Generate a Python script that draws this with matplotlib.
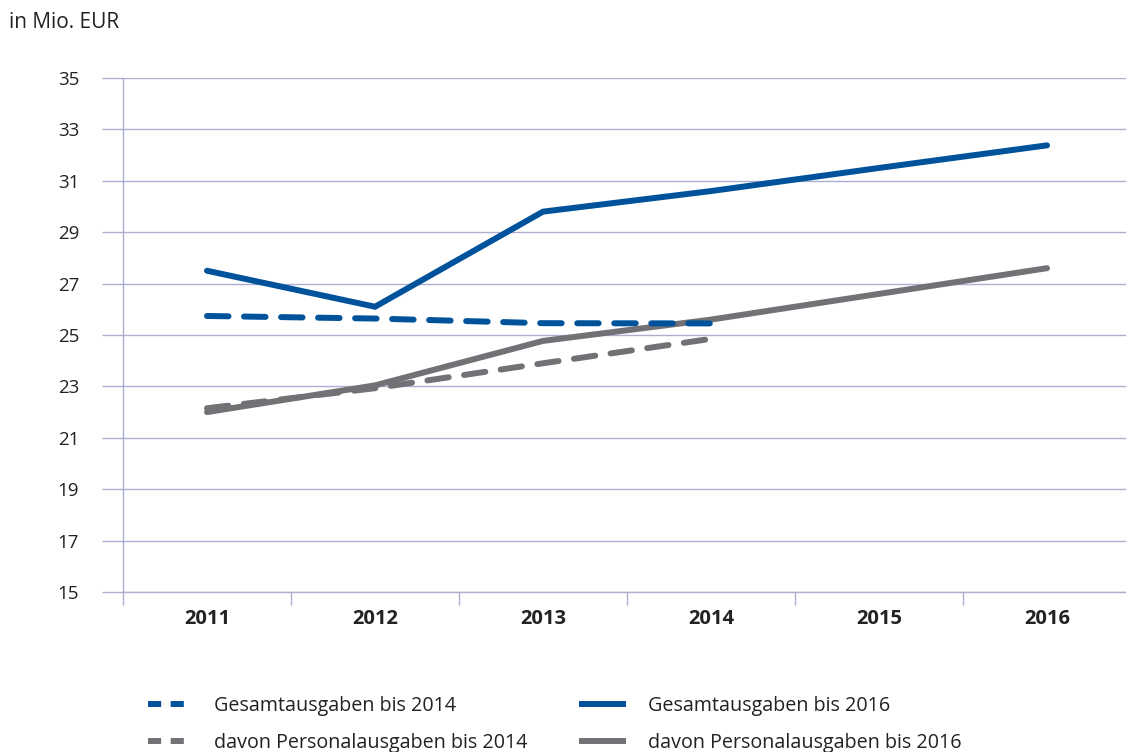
import matplotlib
matplotlib.use("Agg")
import matplotlib.pyplot as plt
from matplotlib.lines import Line2D

plt.rcParams['font.family'] = ['Open Sans', 'DejaVu Sans']

years = ["2011", "2012", "2013", "2014", "2015", "2016"]
gesamt_2014 = [25.74, 25.64, 25.46, 25.45]
personal_2014 = [22.15, 22.93, 23.9, 24.85]
gesamt_2016 = [27.5, 26.1, 29.8, 30.6, 31.5, 32.38]
personal_2016 = [22.0, 23.04, 24.77, 25.6, 26.6, 27.6]
y_ticks = [15, 17, 19, 21, 23, 25, 27, 29, 31, 33, 35]

blue = "#00529b"
gray = "#727276"
grid_c = "#aeaed2"
txt = "#222222"

fig = plt.figure(figsize=(11.26, 7.52), dpi=100)
ax = fig.add_axes([123/1126, 1-592/752, 1-123/1126, (592-78)/752])

x14 = list(range(len(gesamt_2014)))
x16 = list(range(len(gesamt_2016)))
lw = 4.3
ax.plot(x16, personal_2016, color=gray, lw=lw, solid_capstyle='round', solid_joinstyle='miter', zorder=3)
ax.plot(x14, personal_2014, color=gray, lw=lw, dashes=(3.6, 2.6), dash_capstyle='round', zorder=4)
ax.plot(x16, gesamt_2016, color=blue, lw=lw, solid_capstyle='round', solid_joinstyle='miter', zorder=3)
ax.plot(x14, gesamt_2014, color=blue, lw=lw, dashes=(3.6, 2.6), dash_capstyle='round', zorder=4)

ax.set_ylim(15, 35)
ax.set_xlim(-0.5, 5.47)
ax.set_yticks(y_ticks)
ax.set_yticklabels([str(t) for t in y_ticks], fontsize=13.5, color=txt)
ax.tick_params(axis='y', length=15, width=1, color=grid_c, pad=16.5)
ax.yaxis.grid(True, color=grid_c, lw=1)
ax.set_axisbelow(True)

ax.set_xticks(x16)
ax.set_xticklabels(years, fontsize=14.5, fontweight='bold', color=txt)
ax.set_xticks([i - 0.5 for i in range(len(years))], minor=True)
ax.tick_params(axis='x', which='major', length=0, pad=12)
ax.tick_params(axis='x', which='minor', length=9, width=1, color=grid_c)

for s in ['top', 'right']:
    ax.spines[s].set_visible(False)
for s in ['left', 'bottom']:
    ax.spines[s].set_color(grid_c)
    ax.spines[s].set_linewidth(1)

fig.text(9/1126, 1-22/752, "in Mio. EUR", fontsize=15, color=txt, va='center', ha='left')

handles = [
    Line2D([], [], color=blue, lw=lw, dashes=(2.2, 1.6)),
    Line2D([], [], color=gray, lw=lw, dashes=(2.2, 1.6)),
    Line2D([], [], color=blue, lw=lw),
    Line2D([], [], color=gray, lw=lw),
]
labels = ["Gesamtausgaben bis 2014", "davon Personalausgaben bis 2014",
          "Gesamtausgaben bis 2016", "davon Personalausgaben bis 2016"]
fig.legend(handles, labels, ncol=2, loc='upper left', bbox_to_anchor=(144/1126, 1-692/752),
           frameon=False, fontsize=14.2, handlelength=2.1, handletextpad=1.25,
           columnspacing=2.75, labelspacing=0.85, labelcolor=txt, borderaxespad=0, borderpad=0.2)

fig.savefig("out.png", dpi=100)
